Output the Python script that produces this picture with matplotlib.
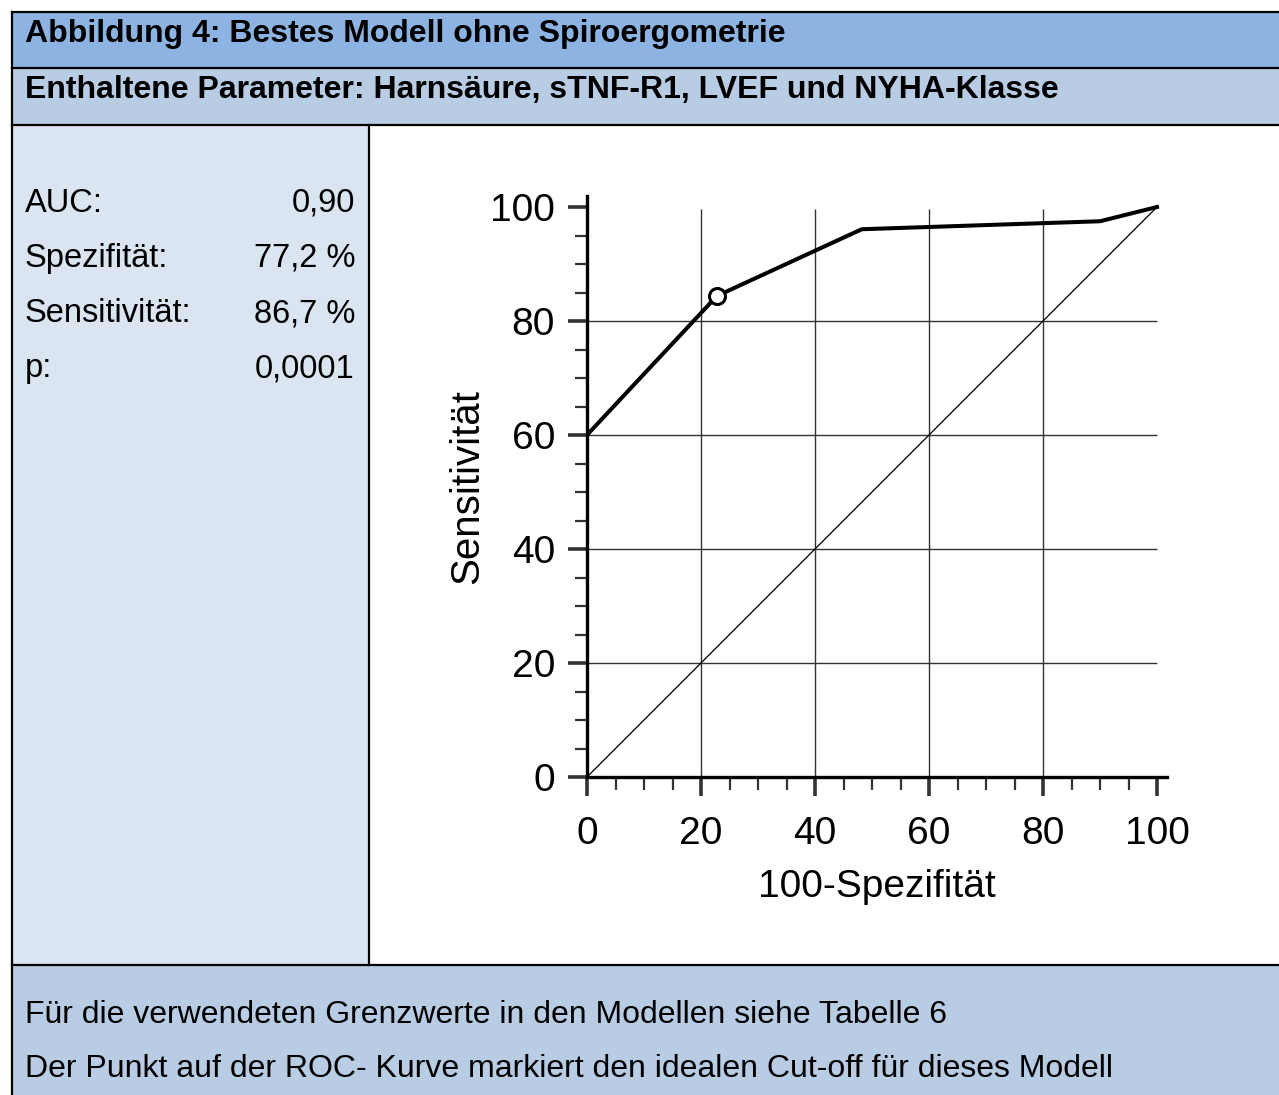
import matplotlib
matplotlib.use("Agg")
import matplotlib.pyplot as plt
from matplotlib.patches import Rectangle
from matplotlib.ticker import MultipleLocator

plt.rcParams['font.family'] = ['Liberation Sans', 'DejaVu Sans']

# ROC curve points (100-Spezifitaet, Sensitivitaet)
roc_x = [0, 22.8, 48.2, 90.0, 100]
roc_y = [60, 84.4, 96.1, 97.5, 100]
cutoff_x = 22.8
cutoff_y = 84.4

stat_names = ["AUC:", "Spezifität:", "Sensitivität:", "p:"]
stat_values = ["0,90", "77,2 %", "86,7 %", "0,0001"]

title1 = "Abbildung 4: Bestes Modell ohne Spiroergometrie"
title2 = "Enthaltene Parameter: Harnsäure, sTNF-R1, LVEF und NYHA-Klasse"
notes = ["Für die verwendeten Grenzwerte in den Modellen siehe Tabelle 6",
         "Der Punkt auf der ROC- Kurve markiert den idealen Cut-off für dieses Modell"]

W, H = 1279, 1095
fig = plt.figure(figsize=(W / 100, H / 100), dpi=100)

# background layer in pixel coordinates
bg = fig.add_axes([0, 0, 1, 1])
bg.set_xlim(0, W)
bg.set_ylim(H, 0)
bg.axis("off")

bg.add_patch(Rectangle((12, 12), W, 56, facecolor="#8DB3E2", edgecolor="none"))
bg.add_patch(Rectangle((12, 68), W, 57, facecolor="#B8CCE4", edgecolor="none"))
bg.add_patch(Rectangle((12, 125), 357, 840, facecolor="#DBE5F1", edgecolor="none"))
bg.add_patch(Rectangle((12, 965), W, 130, facecolor="#B8CCE4", edgecolor="none"))

lw = 1.6
bg.plot([12, W], [12, 12], color="black", lw=lw)
bg.plot([12, 12], [12, H], color="black", lw=lw)
for yy in [68, 125, 965]:
    bg.plot([12, W], [yy, yy], color="black", lw=lw)
bg.plot([369, 369], [125, 965], color="black", lw=lw)

bg.text(25, 34, title1, fontsize=23, fontweight="bold", va="center")
bg.text(25, 90, title2, fontsize=23, fontweight="bold", va="center")

for i, (n, v) in enumerate(zip(stat_names, stat_values)):
    yy = 203 + i * 55.3
    bg.text(25, yy, n, fontsize=23.5, va="center")
    bg.text(355, yy, v, fontsize=23.5, va="center", ha="right")

bg.text(25, 1015, notes[0], fontsize=23, va="center")
bg.text(25, 1069, notes[1], fontsize=23, va="center")

# ROC plot
px = 5.7
x0, y0 = 587, 777
xmax, ymax = 101.8, 102
ax = fig.add_axes([x0 / W, (H - y0) / H, xmax * px / W, ymax * px / H])
ax.set_xlim(0, xmax)
ax.set_ylim(0, ymax)
ax.patch.set_alpha(0)
for s in ["top", "right"]:
    ax.spines[s].set_visible(False)
for s in ["left", "bottom"]:
    ax.spines[s].set_linewidth(2.4)

ax.xaxis.set_major_locator(MultipleLocator(20))
ax.yaxis.set_major_locator(MultipleLocator(20))
ax.xaxis.set_minor_locator(MultipleLocator(5))
ax.yaxis.set_minor_locator(MultipleLocator(5))
ax.tick_params(which="major", length=14, width=2.6, labelsize=28, color="#333333")
ax.tick_params(axis="x", which="major", pad=14)
ax.tick_params(axis="y", which="major", pad=9)
ax.tick_params(which="minor", length=9, width=1.6, color="#333333")

grid = [20, 40, 60, 80]
ax.vlines(grid, 0, 99.6, color="#333333", lw=1.0)
ax.hlines(grid, 0, 100, color="#333333", lw=1.0)

ax.plot([0, 100], [0, 100], color="black", lw=0.9)
ax.plot(roc_x, roc_y, color="black", lw=2.9, solid_joinstyle="miter")
ax.plot([cutoff_x], [cutoff_y], "o", ms=11.5, mfc="white", mec="black", mew=2.2)

ax.set_xlabel("100-Spezifität", fontsize=28, labelpad=12)
ax.set_ylabel("Sensitivität", fontsize=29, labelpad=3)

fig.savefig("out.png", dpi=100)
